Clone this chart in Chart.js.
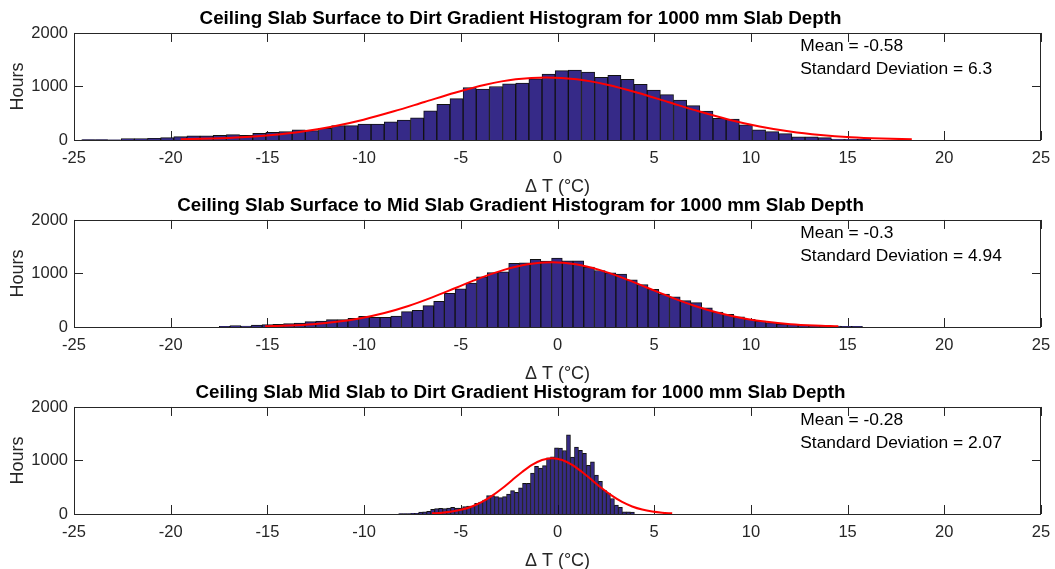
<!DOCTYPE html>
<html>
<head>
<meta charset="utf-8">
<script src="https://cdn.jsdelivr.net/npm/chart.js@4/dist/chart.umd.min.js"></script>
<style>
  html, body { margin: 0; padding: 0; background: #fff; overflow: hidden; }
  #wrap { position: relative; width: 1055px; height: 569px; }
  #wrap canvas { position: absolute; left: 0; }
</style>
</head>
<body>
<div id="wrap">
  <canvas id="h1" width="1055" height="198" style="top:0px"></canvas>
  <canvas id="h2" width="1055" height="198" style="top:187px"></canvas>
  <canvas id="h3" width="1055" height="198" style="top:374px"></canvas>
</div>
<script>
// Hourly temperature gradient histograms, 1000 mm ceiling slab, with normal fits

// Surface -> dirt: 60 bins, 0.68 °C wide, first edge at -24.6
const surfDirtStart = -24.6;
const surfDirtWidth = 0.68;
const surfDirtHours = [
  10, 10, 5, 25, 25, 30, 45, 63, 80, 80,
  88, 100, 88, 126, 145, 157, 189, 176, 220, 270,
  270, 296, 296, 340, 371, 415, 547, 667, 774, 981,
  950, 1000, 1050, 1063, 1145, 1233, 1296, 1308, 1270, 1170,
  1208, 1132, 1038, 931, 849, 748, 642, 541, 403, 390,
  283, 189, 157, 120, 57, 57, 44, 19, 19, 15
];
const surfDirtFitX = [-19.48, -17.91, -16.33, -14.76, -13.18, -11.61, -10.03, -8.46, -6.88, -5.31, -3.73, -2.16, -0.58,
  1.0, 2.57, 4.15, 5.72, 7.3, 8.87, 10.45, 12.02, 13.6, 15.17, 16.75, 18.32];
const surfDirtFitY = [13, 27, 51, 93, 158, 253, 380, 536, 710, 883, 1033, 1134, 1170,
  1134, 1033, 883, 710, 536, 380, 253, 158, 93, 51, 27, 13];

// Surface -> mid slab: 60 bins, 0.554 °C wide
const surfMidStart = -17.49;
const surfMidWidth = 0.5543;
const surfMidHours = [
  12, 25, 19, 38, 44, 50, 62, 75, 100, 112,
  137, 137, 162, 200, 181, 181, 206, 288, 312, 400,
  481, 631, 712, 819, 938, 1019, 1031, 1188, 1200, 1263,
  1231, 1288, 1238, 1238, 1119, 1056, 1013, 988, 881, 794,
  706, 613, 563, 494, 456, 356, 281, 237, 188, 144,
  112, 81, 56, 50, 38, 31, 25, 19, 12, 12
];
const surfMidFitX = [-15.12, -13.89, -12.65, -11.42, -10.18, -8.95, -7.71, -6.48, -5.24, -4.01, -2.77, -1.54, -0.3,
  0.94, 2.17, 3.41, 4.64, 5.88, 7.11, 8.35, 9.58, 10.82, 12.05, 13.29, 14.52];
const surfMidFitY = [13, 28, 53, 96, 164, 262, 393, 554, 734, 913, 1068, 1173, 1210,
  1173, 1068, 913, 734, 554, 393, 262, 164, 96, 53, 28, 13];

// Mid slab -> dirt: 59 bins, 0.207 °C wide
const midDirtStart = -8.213;
const midDirtWidth = 0.2066;
const midDirtHours = [
  6, 6, 6, 12, 12, 37, 40, 50, 85, 100,
  106, 100, 112, 125, 112, 112, 137, 150, 150, 200,
  225, 262, 344, 344, 325, 306, 325, 372, 437, 405,
  490, 572, 575, 765, 890, 860, 905, 1050, 1070, 1235,
  1230, 1187, 1478, 1065, 1250, 1190, 1135, 910, 975, 725,
  610, 440, 390, 290, 165, 125, 42, 42, 37
];
const midDirtFitX = [-6.49, -5.97, -5.46, -4.94, -4.42, -3.9, -3.39, -2.87, -2.35, -1.83, -1.32, -0.8, -0.28,
  0.24, 0.76, 1.27, 1.79, 2.31, 2.83, 3.34, 3.86, 4.38, 4.9, 5.41, 5.93];
const midDirtFitY = [12, 24, 46, 83, 141, 225, 338, 476, 631, 785, 918, 1008, 1040,
  1008, 918, 785, 631, 476, 338, 225, 141, 83, 46, 24, 12];

const titles = [
  'Ceiling Slab Surface to Dirt Gradient Histogram for 1000 mm Slab Depth',
  'Ceiling Slab Surface to Mid Slab Gradient Histogram for 1000 mm Slab Depth',
  'Ceiling Slab Mid Slab to Dirt Gradient Histogram for 1000 mm Slab Depth'
];
const means = ['-0.58', '-0.3', '-0.28'];
const stdDevs = ['6.3', '4.94', '2.07'];
const xTicks = [-25, 25, 5];
const yTicks = [0, 2000, 1000];

const FONT = '"Liberation Sans", Arial, Helvetica, sans-serif';
const AXIS_COLOUR = '#262626';
const BAR_FILL = 'rgb(54,42,136)';
const TICK_LEN = 9;

// tick marks point inward on all four sides, under the bars
const frame = {
  id: 'frame',
  beforeDatasetsDraw(chart) {
    const { ctx, chartArea: a, scales: { x, y } } = chart;
    ctx.save();
    ctx.strokeStyle = AXIS_COLOUR;
    ctx.lineWidth = 1;
    ctx.beginPath();
    x.ticks.forEach((t) => {
      const px = Math.round(x.getPixelForValue(t.value)) + 0.5;
      ctx.moveTo(px, a.top); ctx.lineTo(px, a.top + TICK_LEN);
      ctx.moveTo(px, a.bottom); ctx.lineTo(px, a.bottom - TICK_LEN);
    });
    y.ticks.forEach((t) => {
      const py = Math.round(y.getPixelForValue(t.value)) + 0.5;
      ctx.moveTo(a.left, py); ctx.lineTo(a.left + TICK_LEN, py);
      ctx.moveTo(a.right, py); ctx.lineTo(a.right - TICK_LEN, py);
    });
    ctx.stroke();
    ctx.restore();
  },
  afterDatasetsDraw(chart) {
    const { ctx, chartArea: a } = chart;
    ctx.save();
    ctx.strokeStyle = AXIS_COLOUR;
    ctx.lineWidth = 1;
    ctx.strokeRect(Math.round(a.left) + 0.5, Math.round(a.top) + 0.5,
      Math.round(a.right - a.left) - 1, Math.round(a.bottom - a.top));
    ctx.restore();
  },
  afterDraw(chart, args, opts) {
    const { ctx, scales: { x, y } } = chart;
    ctx.save();
    ctx.fillStyle = '#000';
    ctx.font = '17.4px ' + FONT;
    ctx.textBaseline = 'middle';
    ctx.textAlign = 'left';
    const px = x.getPixelForValue(12.55);
    ctx.fillText('Mean = ' + opts.mean, px, y.getPixelForValue(1745));
    ctx.fillText('Standard Deviation = ' + opts.sd, px, y.getPixelForValue(1328));
    ctx.restore();
  }
};

function makeHistogram(id, title, start, width, hours, fitX, fitY, mean, sd) {
  const bars = hours.map((h, i) => ({ x: start + (i + 0.5) * width, y: h }));
  const fit = fitX.map((v, i) => ({ x: v, y: fitY[i] }));
  return new Chart(document.getElementById(id), {
    type: 'bar',
    data: {
      datasets: [
        {
          type: 'line',
          data: fit,
          borderColor: 'rgb(255,0,0)',
          borderWidth: 2,
          pointRadius: 0,
          cubicInterpolationMode: 'monotone',
          fill: false
        },
        {
          type: 'bar',
          data: bars,
          backgroundColor: BAR_FILL,
          borderColor: '#111',
          borderWidth: 1,
          barPercentage: 1,
          categoryPercentage: 1
        }
      ]
    },
    options: {
      responsive: false,
      animation: false,
      devicePixelRatio: 1,
      layout: { padding: { top: 0, right: 14, bottom: 0, left: 0 } },
      plugins: {
        legend: { display: false },
        tooltip: { enabled: false },
        title: {
          display: true,
          text: title,
          color: '#000',
          font: { family: FONT, size: 18.8, weight: 'bold' },
          padding: { top: 7.5, bottom: 2.9 }
        },
        frame: { mean, sd }
      },
      scales: {
        x: {
          type: 'linear',
          offset: false,
          min: xTicks[0],
          max: xTicks[1],
          grid: { display: false, drawTicks: false },
          border: { display: false },
          ticks: {
            stepSize: xTicks[2],
            autoSkip: false,
            maxRotation: 0,
            padding: 9,
            color: AXIS_COLOUR,
            font: { family: FONT, size: 16.5 }
          },
          title: {
            display: true,
            text: '\u0394 T (\u00B0C)',
            color: AXIS_COLOUR,
            font: { family: FONT, size: 18 },
            padding: { top: 0, bottom: 0 }
          },
          afterFit: (s) => {
            s.height = 58;
            // the end labels fit inside the margins already
            s.paddingLeft = 0;
            s.paddingRight = 0;
          }
        },
        y: {
          min: yTicks[0],
          max: yTicks[1],
          grid: { display: false, drawTicks: false },
          border: { display: false },
          ticks: {
            stepSize: yTicks[2],
            padding: 6,
            color: AXIS_COLOUR,
            font: { family: FONT, size: 16.5 },
            callback: (v) => String(v)
          },
          title: {
            display: true,
            text: 'Hours',
            color: AXIS_COLOUR,
            font: { family: FONT, size: 18 },
            padding: { top: 7, bottom: 0 }
          },
          afterFit: (s) => { s.width = 74; }
        }
      }
    },
    plugins: [frame]
  });
}

makeHistogram('h1', titles[0], surfDirtStart, surfDirtWidth, surfDirtHours, surfDirtFitX, surfDirtFitY, means[0], stdDevs[0]);
makeHistogram('h2', titles[1], surfMidStart, surfMidWidth, surfMidHours, surfMidFitX, surfMidFitY, means[1], stdDevs[1]);
makeHistogram('h3', titles[2], midDirtStart, midDirtWidth, midDirtHours, midDirtFitX, midDirtFitY, means[2], stdDevs[2]);
</script>
</body>
</html>
